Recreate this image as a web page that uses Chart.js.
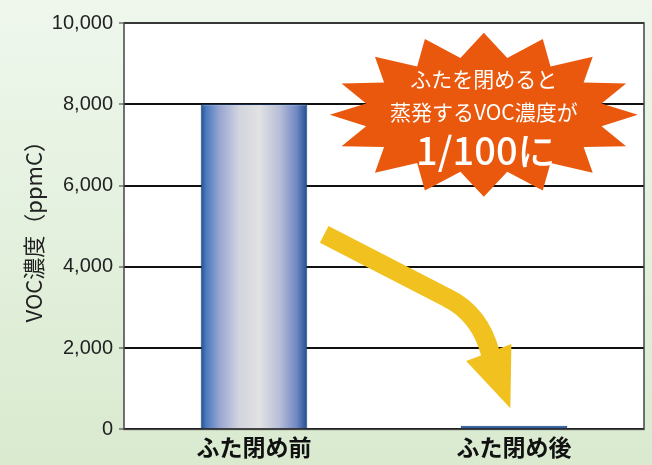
<!DOCTYPE html>
<html>
<head>
<meta charset="utf-8">
<script src="https://cdn.jsdelivr.net/npm/chart.js@4.4.1/dist/chart.umd.min.js"></script>
<style>
  html, body { margin: 0; padding: 0; }
  #wrap { width: 652px; height: 465px; }
</style>
</head>
<body>
<div id="wrap"><canvas id="c" width="652" height="465"></canvas></div>
<script>
var categories = ["ふた閉め前", "ふた閉め後"];
var vocValues = [8000, 90];
var yTicks = [0, 2000, 4000, 6000, 8000, 10000];
var yTitle = "VOC濃度（ppmC）";
var burstLines = ["ふたを閉めると", "蒸発するVOC濃度が", "1/100に"];

var JP = '"Noto Sans CJK JP", "Noto Sans", sans-serif';

function barFill(ctx) {
  var chart = ctx.chart, xs = chart.scales.x, area = chart.chartArea;
  if (!area || !xs || ctx.dataIndex !== 0) return "#2b62a8";
  var cx = xs.getPixelForValue(ctx.dataIndex);
  var w = (area.right - area.left) / categories.length * 0.41;
  var g = chart.ctx.createLinearGradient(cx - w / 2, 0, cx + w / 2, 0);
  g.addColorStop(0, "#1f4e8e");
  g.addColorStop(0.05, "#4a79bd");
  g.addColorStop(0.18, "#9aa6d2");
  g.addColorStop(0.36, "#d2d4df");
  g.addColorStop(0.55, "#e2e2e2");
  g.addColorStop(0.74, "#b8bed8");
  g.addColorStop(0.9, "#7088c4");
  g.addColorStop(1, "#1f4e8e");
  return g;
}

var bgPlugin = {
  id: "bg",
  beforeDraw: function (chart) {
    var c = chart.ctx, a = chart.chartArea;
    c.save();
    var g = c.createLinearGradient(0, 0, 0, chart.height);
    g.addColorStop(0, "#eff7ed");
    g.addColorStop(1, "#d9eacf");
    c.fillStyle = g;
    c.fillRect(0, 0, chart.width, chart.height);
    c.fillStyle = "#ffffff";
    c.fillRect(a.left, a.top, a.right - a.left, a.bottom - a.top);
    c.restore();
  },
  afterDatasetsDraw: function (chart) {
    var c = chart.ctx, a = chart.chartArea, ys = chart.scales.y;
    var W = a.right - a.left;
    function px(f) { return a.left + f * W; }
    function py(v) { return ys.getPixelForValue(v); }
    c.save();
    // border of plot
    c.strokeStyle = "#444";
    c.lineWidth = 1.5;
    c.strokeRect(a.left, a.top, W, a.bottom - a.top);

    // yellow arrow
    c.strokeStyle = "#f1c21f";
    c.fillStyle = "#f1c21f";
    c.lineWidth = 19;
    c.lineCap = "butt";
    c.lineJoin = "round";
    c.beginPath();
    c.moveTo(px(0.385), py(4800));
    c.lineTo(px(0.62), py(3250));
    c.quadraticCurveTo(px(0.685), py(2850), px(0.705), py(1850));
    c.stroke();
    c.beginPath();
    c.moveTo(px(0.658), py(1680));
    c.lineTo(px(0.745), py(2100));
    c.lineTo(px(0.743), py(520));
    c.closePath();
    c.fill();

    // starburst
    var cx = px(0.692), cy = py(7740);
    var n = 16, rxo = 154, ryo = 82, rxi = 120, ryi = 58;
    c.fillStyle = "#e9580c";
    c.beginPath();
    for (var i = 0; i < n * 2; i++) {
      var ang = Math.PI * i / n;
      var o = i % 2 === 0;
      var x = cx + Math.cos(ang) * (o ? rxo : rxi);
      var y = cy + Math.sin(ang) * (o ? ryo : ryi);
      if (i === 0) c.moveTo(x, y); else c.lineTo(x, y);
    }
    c.closePath();
    c.fill();
    c.fillStyle = "#ffffff";
    c.textAlign = "center";
    c.textBaseline = "middle";
    c.font = "21px " + JP;
    c.fillText(burstLines[0], cx, cy - 36);
    c.fillText(burstLines[1], cx, cy - 3);
    c.font = "500 38px " + JP;
    c.fillText(burstLines[2], cx + 2, cy + 36);
    c.restore();
  }
};

new Chart(document.getElementById("c"), {
  type: "bar",
  data: {
    labels: categories,
    datasets: [{
      data: vocValues,
      backgroundColor: barFill,
      borderColor: "#1c3f72",
      borderWidth: 1,
      barPercentage: 0.41,
      categoryPercentage: 1
    }]
  },
  options: {
    responsive: false,
    animation: false,
    layout: { padding: { top: 23, right: 8, left: 0, bottom: 0 } },
    plugins: { legend: { display: false }, tooltip: { enabled: false } },
    scales: {
      x: {
        grid: { display: false, drawTicks: false },
        border: { display: false },
        ticks: {
          color: "#111",
          padding: 4,
          font: { family: JP, size: 23, weight: "bold" }
        }
      },
      y: {
        min: 0,
        max: 10000,
        afterBuildTicks: function (s) { s.ticks = yTicks.map(function (v) { return { value: v }; }); },
        afterFit: function (s) { s.width = 124; },
        grid: { color: "#111", lineWidth: 2, tickLength: 5, tickColor: "#333", tickWidth: 1 },
        border: { display: false },
        ticks: {
          color: "#222",
          padding: 6,
          font: { family: '"Liberation Sans", Arial, sans-serif', size: 20 },
          callback: function (v) { return v.toLocaleString("en-US"); }
        },
        title: {
          display: true,
          text: yTitle,
          color: "#222",
          padding: { top: 20, bottom: 0 },
          font: { family: JP, size: 22 }
        }
      }
    }
  },
  plugins: [bgPlugin]
});
</script>
</body>
</html>
